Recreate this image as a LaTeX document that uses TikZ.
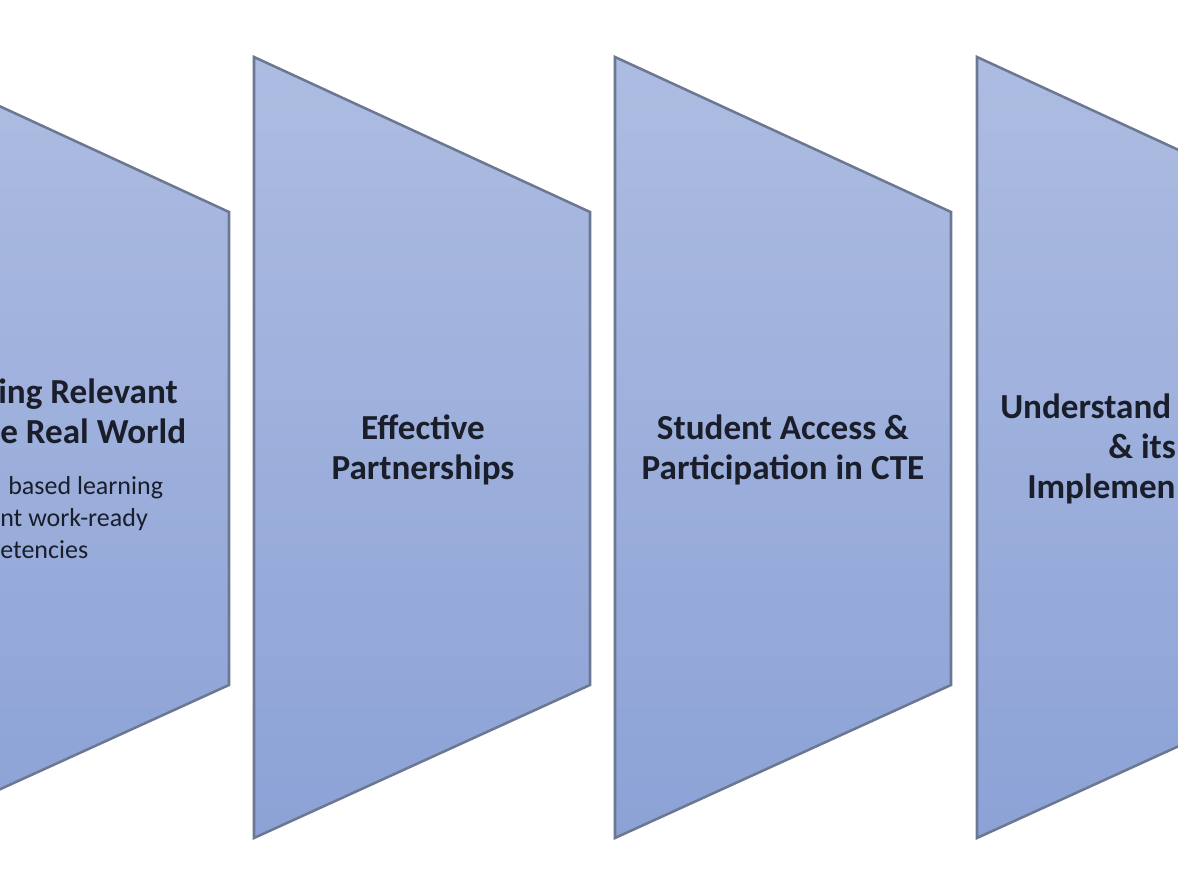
\documentclass[tikz,border=0pt]{standalone}
\usepackage{fontspec}
\setmainfont{Carlito}
\usepackage{tikz}
\definecolor{fuTop}{HTML}{ADBCE1}
\definecolor{fuBot}{HTML}{8CA2D6}
\definecolor{fuEdge}{HTML}{6C7892}
\definecolor{fuText}{HTML}{1A1D2A}

\begin{document}
\begin{tikzpicture}[x=0.25mm, y=-0.25mm,
  stage/.style={draw=fuEdge, line width=1.8pt, top color=fuTop, bottom color=fuBot},
  head/.style={align=center, inner sep=0pt, text=fuText, font=\fontsize{25}{28.4}\selectfont\bfseries},
  note/.style={inner sep=0pt, text=fuText, font=\fontsize{18.5}{22.7}\selectfont}]
  \useasboundingbox (0,0) rectangle (1178,884);
  \clip (0,0) rectangle (1178,884);

  % the four stages, each a trapezoid narrowing to the right
  \draw[stage] (-107,57) -- (229,212) -- (229,685) -- (-107,838) -- cycle;
  \draw[stage] (254,57) -- (590,212) -- (590,685) -- (254,838) -- cycle;
  \draw[stage] (615,57) -- (951,212) -- (951,685) -- (615,838) -- cycle;
  \draw[stage] (977,57) -- (1313,212) -- (1313,685) -- (977,838) -- cycle;

  % stage 1 (cut at the left border)
  \node[head, anchor=base east] (relevA) at (178,404) {ing Relevant};
  \node[head, anchor=base west] (relevB) at (0,444) {e Real World};
  \node[note, anchor=base west] (noteA) at (8,495) {based learning};
  \node[note, anchor=base west] (noteB) at (0,527) {nt work-ready};
  \node[note, anchor=base west] (noteC) at (0,559) {etencies};

  % stages 2 and 3
  \node[head] (partner) at (423,450) {Effective\\Partnerships};
  \node[head] (access) at (783,450) {Student Access \&\\Participation in CTE};

  % stage 4 (cut at the right border)
  \node[head, anchor=base west] (underA) at (1000,419) {Understand};
  \node[head, anchor=base west] (underB) at (1108,459) {\& its};
  \node[head, anchor=base west] (underC) at (1027,499) {Implemen};
\end{tikzpicture}
\end{document}
